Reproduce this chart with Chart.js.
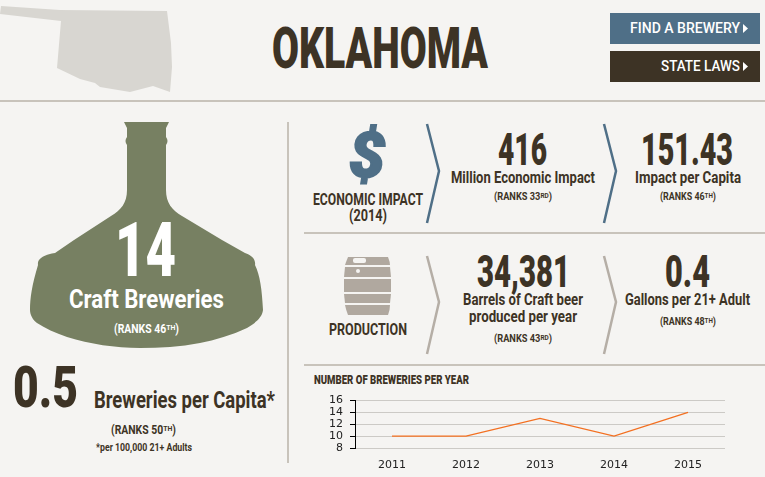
<!DOCTYPE html>
<html>
<head>
<meta charset="utf-8">
<script src="https://cdn.jsdelivr.net/npm/chart.js@4"></script>
<style>
html, body { margin: 0; padding: 0; background: #f5f4f2; overflow: hidden; }
#page { position: relative; width: 765px; height: 477px; }
#art { position: absolute; left: 0; top: 0; }
#art text { font-family: Roboto, sans-serif; font-weight: 700; fill: #3d3325; }
#art text.w { fill: #fff; }
#art text.b { font-weight: 900; }
#art text.m { font-weight: 500; }
#chartBox { position: absolute; left: 300px; top: 387px; width: 440px; height: 90px; }
</style>
</head>
<body>
<div id="page">
<svg id="art" width="765" height="477" viewBox="0 0 765 477">
  <!-- state outline -->
  <polygon fill="#d8d6d1" points="1,6 60,10 167,11 171,43 172,67 170,92 153,86 130,92 100,87 95,83 80,79 57,68 61,21 0,14"/>
  <!-- rules -->
  <rect x="0" y="100" width="765" height="2" fill="#c8c3bb"/>
  <rect x="287" y="122" width="2" height="341" fill="#c8c3bb"/>
  <rect x="304" y="232" width="461" height="2" fill="#c8c3bb"/>
  <rect x="304" y="364" width="461" height="2" fill="#c8c3bb"/>
  <!-- chevrons -->
  <polyline fill="none" stroke="#4f6f87" stroke-width="2.5" points="427,124 439,171 427,223"/>
  <polyline fill="none" stroke="#4f6f87" stroke-width="2.5" points="604,124 616,171 604,223"/>
  <polyline fill="none" stroke="#b5aea6" stroke-width="2.5" points="427,256 439,302 427,354"/>
  <polyline fill="none" stroke="#b5aea6" stroke-width="2.5" points="604,256 616,302 604,354"/>
  <!-- bottle -->
  <path fill="#778062" d="M124,122 H169 L166,128 V137 Q169,141 166,145 V190 C166,203 172,210 182,216 L222,240 L245,253 C251,255 256,259 255,265 C260,275 262,290 263,310 C262,318 255,323 247,328 C232,335 215,340 200,343 C180,347 160,348 140,348 C115,348 90,344 67,337 C55,333 45,328 37,323 C33,320 30,315 30,310 C30,298 32,285 38,265 C37,259 43,255 55,253 L74,240 L111,216 C121,210 127,203 127,190 V145 Q124,141 127,137 V128 Z"/>
  <!-- keg -->
  <path fill="#b0a89f" d="M348,257 H388 Q390,262 390,265 H345 Q346,262 348,257 Z"/>
  <rect x="353" y="258" width="13" height="5" rx="2" fill="#f5f4f2"/>
  <path fill="#b0a89f" d="M345,267 H390 L391,277 H344 Z"/>
  <circle cx="358" cy="271" r="2" fill="#f5f4f2"/>
  <rect x="344" y="279" width="47" height="13" fill="#b0a89f"/>
  <path fill="#b0a89f" d="M344,294 H391 L390,303 H345 Z"/>
  <path fill="#b0a89f" d="M345,305 H390 Q390,310 388,315 H348 Q346,310 345,305 Z"/>
  <!-- buttons -->
  <rect x="610" y="13" width="150" height="31" fill="#4f6f87"/>
  <rect x="610" y="51" width="150" height="31" fill="#3d3325"/>
  <polygon fill="#fff" points="743,24 748,28.500 743,33"/>
  <polygon fill="#fff" points="743,62 748,66.500 743,71"/>
  <text class="w m" x="630" y="33" font-size="14" textLength="110">FIND A BREWERY</text>
  <text class="w m" x="661" y="71" font-size="14" textLength="79">STATE LAWS</text>

  <text class="b" x="272" y="68" font-size="58" textLength="216">OKLAHOMA</text>

  <!-- left column -->
  <text class="w b" x="115" y="276" font-size="76" textLength="61">14</text>
  <text class="w" x="69" y="308" font-size="25" textLength="155">Craft Breweries</text>
  <text class="w" x="114" y="333" font-size="12" textLength="65">(RANKS 46<tspan font-size="8" dy="-3">TH</tspan><tspan dy="3">)</tspan></text>
  <text class="b" x="13" y="407" font-size="58" textLength="65">0.5</text>
  <text x="94" y="408" font-size="23" textLength="181">Breweries per Capita*</text>
  <text x="111" y="434" font-size="12" textLength="65">(RANKS 50<tspan font-size="8" dy="-3">TH</tspan><tspan dy="3">)</tspan></text>
  <text x="96" y="451" font-size="10" textLength="96">*per 100,000 21+ Adults</text>

  <!-- economic impact row -->
  <text x="349" y="177" font-size="62" font-style="italic" stroke="#4f6f87" stroke-width="2" style="fill:#4f6f87;font-weight:900" textLength="36">$</text>
  <text x="313" y="205" font-size="16" textLength="110">ECONOMIC IMPACT</text>
  <text x="349" y="221" font-size="16" textLength="38">(2014)</text>
  <text class="b" x="498" y="165" font-size="45" textLength="49">416</text>
  <text x="451" y="183" font-size="16" textLength="144">Million Economic Impact</text>
  <text x="494" y="200" font-size="10" textLength="58">(RANKS 33<tspan font-size="7" dy="-2">RD</tspan><tspan dy="2">)</tspan></text>
  <text class="b" x="641" y="165" font-size="45" textLength="92">151.43</text>
  <text x="635" y="183" font-size="16" textLength="106">Impact per Capita</text>
  <text x="660" y="200" font-size="10" textLength="56">(RANKS 46<tspan font-size="7" dy="-2">TH</tspan><tspan dy="2">)</tspan></text>

  <!-- production row -->
  <text x="329" y="335" font-size="16" textLength="78">PRODUCTION</text>
  <text class="b" x="477" y="287" font-size="45" textLength="93">34,381</text>
  <text x="463" y="305" font-size="16" textLength="120">Barrels of Craft beer</text>
  <text x="469" y="322" font-size="16" textLength="108">produced per year</text>
  <text x="494" y="342" font-size="10" textLength="58">(RANKS 43<tspan font-size="7" dy="-2">RD</tspan><tspan dy="2">)</tspan></text>
  <text class="b" x="665" y="287" font-size="45" textLength="45">0.4</text>
  <text x="625" y="305" font-size="16" textLength="125">Gallons per 21+ Adult</text>
  <text x="660" y="325" font-size="10" textLength="56">(RANKS 48<tspan font-size="7" dy="-2">TH</tspan><tspan dy="2">)</tspan></text>

  <text class="b" x="314" y="384" font-size="12" textLength="155">NUMBER OF BREWERIES PER YEAR</text>
</svg>
<div id="chartBox"><canvas id="myChart" width="440" height="90"></canvas></div>
</div>

<script>
const years = ["2011", "2012", "2013", "2014", "2015"];
const breweries = [10, 10, 13, 10, 14];
const yTicks = [8, 10, 12, 14, 16];

// squeeze the glyphs, not just the gaps, so the wide font looks condensed
document.querySelectorAll("#art text").forEach((t) => t.setAttribute("lengthAdjust", "spacingAndGlyphs"));

const ctx = document.getElementById("myChart");

new Chart(ctx, {
	type: "line",
	data: {
		labels: years,
		datasets: [
			{
				label: "Number of breweries",
				data: breweries,
				borderColor: "#f37021",
				borderWidth: 1.3,
				pointRadius: 0,
				fill: false,
				tension: 0,
			},
		],
	},
	options: {
		responsive: false,
		animation: false,
		devicePixelRatio: 1,
		layout: { padding: { top: 5, right: 15, left: 0, bottom: 0 } },
		plugins: { legend: { display: false }, tooltip: { enabled: false } },
		scales: {
			x: {
				offset: true,
				grid: { display: false },
				border: { display: false },
				ticks: { color: "#222", padding: 3, maxRotation: 0, font: { family: "DejaVu Sans", size: 11 } },
				afterFit: (axis) => { axis.height = 29; },
			},
			y: {
				min: yTicks[0],
				max: yTicks[yTicks.length - 1],
				afterBuildTicks: (axis) => { axis.ticks = yTicks.map((value) => ({ value })); },
				grid: { color: "#cccac6", lineWidth: 1, tickColor: "#000", tickLength: 5 },
				border: { display: true, color: "#000", width: 1 },
				ticks: { color: "#222", padding: 7, autoSkip: false, font: { family: "DejaVu Sans", size: 11 } },
				afterFit: (axis) => { axis.width = 55; },
			},
		},
	},
});
</script>
</body>
</html>
